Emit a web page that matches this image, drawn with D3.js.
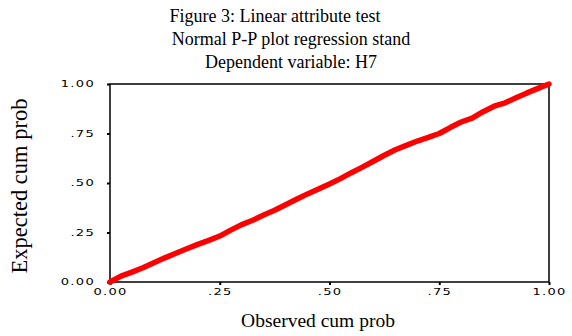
<!DOCTYPE html>
<html>
<head>
<meta charset="utf-8">
<script src="https://cdn.jsdelivr.net/npm/d3@7"></script>
<style>
  body { margin: 0; background: #fff; }
</style>
</head>
<body>
<div id="chart"></div>
<script>
const titleLines = ["Figure 3: Linear attribute test", "Normal P-P plot regression stand", "Dependent variable: H7"];
const tickValues = [0, 0.25, 0.5, 0.75, 1];
const tickLabels = ["0.00", ".25", ".50", ".75", "1.00"];

// observed vs expected cumulative probability
const observed = [0.000, 0.025, 0.050, 0.075, 0.100, 0.125, 0.150, 0.175, 0.200, 0.225,
  0.250, 0.275, 0.300, 0.325, 0.350, 0.375, 0.400, 0.425, 0.450, 0.475,
  0.500, 0.525, 0.550, 0.575, 0.600, 0.625, 0.650, 0.675, 0.700, 0.725,
  0.750, 0.775, 0.800, 0.825, 0.850, 0.875, 0.900, 0.925, 0.950, 0.975, 1.000];
const expected = [0.000, 0.030, 0.050, 0.072, 0.097, 0.122, 0.145, 0.168, 0.190, 0.210,
  0.232, 0.262, 0.290, 0.312, 0.338, 0.362, 0.390, 0.418, 0.445, 0.470,
  0.495, 0.522, 0.552, 0.580, 0.610, 0.640, 0.668, 0.690, 0.712, 0.730,
  0.750, 0.780, 0.808, 0.828, 0.860, 0.888, 0.905, 0.930, 0.955, 0.978, 1.000];

const width = 572;
const height = 336;
const margin = { top: 84, right: 23, bottom: 54, left: 110 };
const stretch = 1.45; // tick labels are drawn wide in the original

const svg = d3.select("#chart")
  .append("svg")
  .attr("width", width)
  .attr("height", height);

const x = d3.scaleLinear()
  .domain([0, 1])
  .range([margin.left, width - margin.right]);

const y = d3.scaleLinear()
  .domain([0, 1])
  .range([height - margin.bottom, margin.top]);

svg.append("g")
  .attr("font-family", "Liberation Serif, Times New Roman, serif")
  .attr("font-size", 18)
  .attr("text-anchor", "middle")
  .selectAll("text")
  .data(titleLines)
  .join("text")
    .attr("x", (d, i) => i === 0 ? 275 : 291)
    .attr("y", (d, i) => 22 + i * 23.2)
    .text(d => d);

// plot frame
svg.append("rect")
  .attr("x", x(0))
  .attr("y", y(1))
  .attr("width", x(1) - x(0))
  .attr("height", y(0) - y(1))
  .attr("fill", "none")
  .attr("stroke", "#000")
  .attr("stroke-width", 1.5);

function xAxis(g) {
  g.attr("transform", `translate(0,${y(0)})`)
    .call(d3.axisBottom(x).tickValues(tickValues).tickFormat((d, i) => tickLabels[i]).tickSize(3).tickPadding(4))
    .call(g => g.select(".domain").remove())
    .call(g => g.selectAll(".tick line").attr("stroke-width", 2));
}

function yAxis(g) {
  g.attr("transform", `translate(${x(0)},0)`)
    .call(d3.axisLeft(y).tickValues(tickValues).tickFormat((d, i) => tickLabels[i]).tickSize(3).tickPadding(12))
    .call(g => g.select(".domain").remove())
    .call(g => g.selectAll(".tick line").attr("stroke-width", 2))
    .call(g => g.selectAll(".tick text").attr("x", -15 / stretch));
}

svg.append("g").call(xAxis);
svg.append("g").call(yAxis);

svg.selectAll(".tick text")
  .attr("font-family", "DejaVu Sans, sans-serif")
  .attr("font-size", 9)
  .attr("letter-spacing", "0.9px")
  .attr("transform", `scale(${stretch},1)`)
  .attr("fill", "#000");

const pts = observed.map((d, i) => [d, expected[i]]);

svg.append("path")
  .datum(pts)
  .attr("fill", "none")
  .attr("stroke", "#ff0000")
  .attr("stroke-width", 5.5)
  .attr("stroke-linecap", "round")
  .attr("stroke-linejoin", "round")
  .attr("d", d3.line().x(d => x(d[0])).y(d => y(d[1])));

svg.append("text")
  .attr("x", 318)
  .attr("y", 327)
  .attr("text-anchor", "middle")
  .attr("font-family", "Liberation Serif, Times New Roman, serif")
  .attr("font-size", 19.5)
  .text("Observed cum prob");

svg.append("text")
  .attr("transform", `translate(27,186) rotate(-90)`)
  .attr("text-anchor", "middle")
  .attr("font-family", "Liberation Serif, Times New Roman, serif")
  .attr("font-size", 22.5)
  .text("Expected cum prob");
</script>
</body>
</html>
